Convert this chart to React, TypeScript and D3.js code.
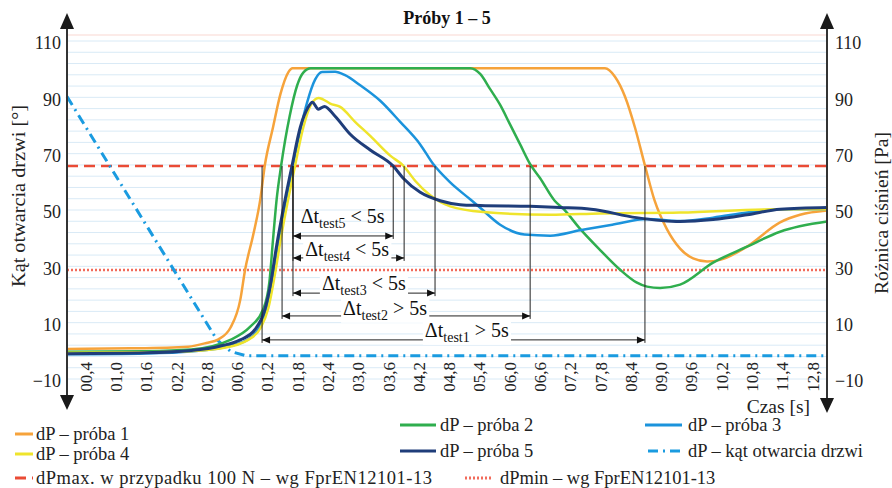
import * as d3 from 'd3';
import React, { useRef, useEffect } from 'react';

// x axis is the sample index of the tick labels (0..24)
const xLabels = ["00,4", "01,0", "01,6", "02,2", "02,8", "00,6", "01,2", "01,8", "02,4", "03,0", "03,6", "04,2", "04,8",
  "05,4", "06,0", "06,6", "07,2", "07,8", "08,4", "09,0", "09,6", "10,2", "10,8", "11,4", "12,8"];
const yTicks = [-10, 10, 30, 50, 70, 90, 110];

// [index, value]
const proba1: [number, number][] = [[-0.6, 1.4], [1.5, 1.6], [3.4, 2.2], [4.0, 3.5], [4.4, 4.8], [4.8, 9], [5.12, 18.8],
  [5.28, 29.5], [5.55, 42], [5.78, 54.4], [5.93, 66.5], [6.2, 80], [6.45, 92], [6.7, 99.5], [6.85, 101], [17.16, 101],
  [17.49, 98], [17.82, 91], [18.15, 80], [18.48, 66.5], [18.8, 54], [19.2, 44], [19.64, 37], [20.07, 33.5],
  [20.53, 32.4], [20.96, 33], [21.85, 37.7], [22.94, 46.3], [23.6, 49], [24.49, 50.5]];
const proba2: [number, number][] = [[-0.6, 0.4], [2, 0.6], [3.5, 1.2], [4.79, 4.6], [5.45, 9.3], [5.87, 15.3], [6.08, 25],
  [6.2, 40], [6.32, 54.4], [6.47, 66.5], [6.75, 84], [7.0, 95], [7.2, 99.5], [7.45, 101], [12.71, 101], [13.04, 99],
  [13.37, 93.6], [13.7, 88], [14.03, 81], [14.36, 74], [14.69, 67], [15.02, 62], [15.5, 54], [15.8, 51], [16.34, 44],
  [17.0, 36.5], [17.66, 29.5], [18.2, 25], [18.55, 23.5], [18.98, 23], [19.64, 24.2], [20.73, 32], [21.85, 37.7],
  [22.94, 43], [24.49, 46.6]];
const proba3: [number, number][] = [[-0.6, -0.5], [2, -0.2], [3.5, 0.5], [4.5, 1.8], [5.35, 4.6], [5.75, 9], [6.0, 16],
  [6.2, 27], [6.4, 40], [6.65, 55], [6.86, 66.5], [7.1, 79], [7.33, 89], [7.59, 97], [7.82, 99.7], [8.25, 99.8],
  [8.58, 98.6], [9.08, 95], [9.74, 89.5], [10.4, 82], [11.06, 74], [11.49, 67], [12.05, 60.5], [12.71, 54.5],
  [13.04, 51.5], [13.7, 45.5], [14.5, 42], [15.35, 41.6], [16.34, 43.5], [17.4, 45.5], [18.55, 47.5], [19.64, 46.8],
  [20.73, 48], [21.85, 49.8], [22.94, 51], [24.49, 51]];
const proba4: [number, number][] = [[-0.6, 0], [2, 0.2], [3.5, 0.6], [4.5, 1.6], [5.38, 4.6], [5.8, 9], [6.05, 16],
  [6.25, 27], [6.45, 40], [6.7, 54.4], [6.93, 66.5], [7.2, 80], [7.45, 88], [7.7, 90.5], [7.85, 90], [8.09, 88.5],
  [8.42, 87.3], [8.91, 82], [9.41, 77], [10.07, 70], [10.5, 66.5], [10.9, 61], [11.38, 56], [12.05, 52],
  [13.14, 50], [15.35, 49], [17.0, 49.5], [19.64, 49.8], [22.94, 51], [24.49, 51]];
const proba5: [number, number][] = [[-0.6, -0.3], [2, 0], [3.5, 0.8], [4.5, 2.5], [5.12, 4.6], [5.6, 8.2], [5.93, 15.3],
  [6.13, 25], [6.3, 36.7], [6.6, 54.4], [6.83, 66.5], [7.1, 80], [7.35, 87], [7.5, 89], [7.7, 86.5], [7.9, 87.5],
  [8.25, 84], [8.75, 77.6], [9.41, 72], [10.17, 66.3], [10.5, 62], [11.06, 57], [11.72, 54], [12.38, 52.6],
  [13.04, 52.3], [14.69, 52], [15.68, 51.6], [16.7, 51], [18.2, 48], [19.64, 46.6], [20.73, 47.3], [21.85, 49],
  [22.94, 51], [24.49, 51.6]];
const katDrzwi: [number, number][] = [[-0.6, 91], [4.35, 4.6], [4.8, 0.5], [5.3, -1], [24.49, -1]];

const dPmax = 66.3;
const dPmin = 29.4;

// time-difference annotations
const testNames = ["test1", "test2", "test3", "test4", "test5"];
const testSigns = [">", ">", "<", "<", "<"];
const testStart = [5.84, 6.5, 6.86, 6.86, 6.86];
const testEnd = [18.48, 14.69, 11.55, 10.53, 10.17];
const testLevel = [4.6, 13.1, 21.2, 33.7, 41.5];

const legendLabels = ["dP – próba 1", "dP – próba 2", "dP – próba 3", "dP – próba 4", "dP – próba 5",
  "dP – kąt otwarcia drzwi", "dPmax. w przypadku 100 N – wg FprEN12101-13", "dPmin – wg FprEN12101-13"];

const FONT = '"Liberation Serif", "DejaVu Serif", serif';
const colors = ["#f6a33b", "#2fae4e", "#1b93dc", "#efe42c", "#1f3d7a", "#1a9be0", "#ea4b35", "#f26b5b"];
const dashes = [null, null, null, null, null, "10 5 2 5", "11 6", "2 2"];
const widths = [2.5, 2.5, 2.5, 2.5, 3, 3, 2.5, 2.5];

// legend layout: sample x1, x2, sample y, text x, text baseline, text length
const legendPos = [
  [15, 33, 434, 36, 440, 0], [400, 436, 425, 440, 431, 0], [645, 682, 425, 688, 431, 0],
  [15, 33, 454, 36, 460, 0], [400, 436, 451, 440, 457, 0], [648, 682, 451, 688, 457, 0],
  [15, 33, 478, 36, 484, 396], [465, 493, 478, 500, 484, 0]];
// annotation label layout (index, baseline value)
const labelPos = [[12.6, 5.7], [9.9, 13.5], [9.2, 22.3], [8.65, 34.4], [8.5, 46.1]];

function Chart() {
  const ref = useRef<SVGSVGElement>(null);

  useEffect(() => {
    const svg = d3.select(ref.current);
    svg.selectAll("*").remove();

    const x = d3.scaleLinear().domain([-0.6, 24.49]).range([67, 827]);
    const y = d3.scaleLinear().domain([-10, 110]).range([381, 43]);

    // grid
    svg.append("line").attr("x1", 67).attr("x2", 827).attr("y1", 35).attr("y2", 35)
      .attr("stroke", "#fbe4e0").attr("stroke-width", 1.5);
    svg.append("g").selectAll("line").data(d3.range(-10, 111, 4)).join("line")
      .attr("x1", 67).attr("x2", 827)
      .attr("y1", d => y(d) - 2).attr("y2", d => y(d) - 2)
      .attr("stroke", "#d9eaf6").attr("stroke-width", 1);

    // threshold lines
    svg.append("line").attr("x1", 67).attr("x2", 827).attr("y1", y(dPmax)).attr("y2", y(dPmax))
      .attr("stroke", colors[6]).attr("stroke-width", widths[6]).attr("stroke-dasharray", dashes[6]);
    svg.append("line").attr("x1", 67).attr("x2", 827).attr("y1", y(dPmin)).attr("y2", y(dPmin))
      .attr("stroke", colors[7]).attr("stroke-width", widths[7]).attr("stroke-dasharray", dashes[7]);

    const lin = d3.line<[number, number]>().x(d => x(d[0])).y(d => y(d[1]));
    svg.append("path").attr("d", lin(katDrzwi)).attr("fill", "none")
      .attr("stroke", colors[5]).attr("stroke-width", widths[5]).attr("stroke-dasharray", dashes[5]);

    const smooth = d3.line<[number, number]>().x(d => x(d[0])).y(d => y(d[1])).curve(d3.curveMonotoneX);
    const series = [proba1, proba2, proba3, proba4, proba5];
    series.forEach((s, i) => {
      svg.append("path").attr("d", smooth(s)).attr("fill", "none")
        .attr("stroke", colors[i]).attr("stroke-width", widths[i]).attr("stroke-linejoin", "round");
    });

    // annotations
    const ann = svg.append("g");
    const arrow = (px: number, py: number, dir: number) =>
      ann.append("path").attr("d", `M${px},${py}L${px - dir * 8},${py - 3.5}L${px - dir * 8},${py + 3.5}Z`).attr("fill", "#111");
    testNames.forEach((n, i) => {
      const x1 = x(testStart[i]), x2 = x(testEnd[i]), yy = y(testLevel[i]);
      ann.append("line").attr("x1", x1).attr("x2", x1).attr("y1", y(dPmax)).attr("y2", yy + 3)
        .attr("stroke", "#222").attr("stroke-width", 1);
      ann.append("line").attr("x1", x2).attr("x2", x2).attr("y1", y(dPmax)).attr("y2", yy + 3)
        .attr("stroke", "#222").attr("stroke-width", 1);
      ann.append("line").attr("x1", x1).attr("x2", x2).attr("y1", yy).attr("y2", yy)
        .attr("stroke", "#222").attr("stroke-width", 1);
      arrow(x1, yy, -1);
      arrow(x2, yy, 1);
    });
    testNames.forEach((n, i) => {
      const g = ann.append("g");
      const t = g.append("text").attr("x", x(labelPos[i][0])).attr("y", y(labelPos[i][1]))
        .attr("text-anchor", "middle").style("font-family", FONT).attr("font-size", 20).attr("fill", "#111");
      t.append("tspan").text("Δt");
      t.append("tspan").attr("font-size", 14).attr("dy", 5).text(n);
      t.append("tspan").attr("dy", -5).text(` ${testSigns[i]} 5s`);
      const bb = (t.node() as SVGTextElement).getBBox();
      if (i < 4) {
        g.insert("rect", "text").attr("x", bb.x - 2).attr("y", bb.y + 2).attr("width", bb.width + 4).attr("height", bb.height - 2)
          .attr("fill", "white");
      }
    });

    // axes
    const axisCol = "#333";
    [67, 827].forEach((ax, k) => {
      svg.append("line").attr("x1", ax).attr("x2", ax).attr("y1", 26).attr("y2", 398)
        .attr("stroke", axisCol).attr("stroke-width", 2);
      svg.append("path").attr("d", `M${ax},13L${ax - 7},29L${ax + 7},29Z`).attr("fill", "#1a1a1a");
      const tip = k === 0 ? 410 : 413;
      svg.append("path").attr("d", `M${ax},${tip}L${ax - 7},${tip - 15}L${ax + 7},${tip - 15}Z`).attr("fill", "#1a1a1a");
    });

    const yl = svg.append("g").attr("transform", "translate(67,0)")
      .call(d3.axisLeft(y).tickValues(yTicks).tickSize(0).tickPadding(6));
    const yr = svg.append("g").attr("transform", "translate(827,0)")
      .call(d3.axisRight(y).tickValues(yTicks).tickSize(0).tickPadding(8));
    const xa = svg.append("g").attr("transform", "translate(6,362)")
      .call(d3.axisBottom(x).tickValues(d3.range(xLabels.length)).tickFormat(i => xLabels[i as number]).tickSize(0));
    [yl, yr, xa].forEach(a => {
      a.select(".domain").remove();
      a.attr("font-family", null).attr("font-size", null);
      a.selectAll("text").style("font-family", FONT).style("font-size", "18px").attr("fill", "#222");
    });
    xa.selectAll("text").style("font-size", "17px").attr("transform", "rotate(-90)").attr("text-anchor", "end")
      .attr("x", 0).attr("y", 0).attr("dy", 0);

    // titles
    svg.append("text").attr("x", 447).attr("y", 24).attr("text-anchor", "middle").style("font-family", FONT)
      .attr("font-weight", "bold").attr("font-size", 18).attr("fill", "#111").text("Próby 1 – 5");
    svg.append("text").attr("transform", "translate(25,196) rotate(-90)").attr("text-anchor", "middle")
      .style("font-family", FONT).attr("font-size", 19).attr("fill", "#222")
      .attr("textLength", 182).attr("lengthAdjust", "spacingAndGlyphs").text("Kąt otwarcia drzwi [°]");
    svg.append("text").attr("transform", "translate(888,213) rotate(-90)").attr("text-anchor", "middle")
      .style("font-family", FONT).attr("font-size", 19).attr("fill", "#222")
      .attr("textLength", 162).attr("lengthAdjust", "spacingAndGlyphs").text("Różnica ciśnień [Pa]");
    svg.append("text").attr("x", 810).attr("y", 413).attr("text-anchor", "end")
      .style("font-family", FONT).attr("font-size", 19.5).attr("fill", "#222").text("Czas [s]");

    // legend
    const lg = svg.append("g");
    legendLabels.forEach((lab, i) => {
      const p = legendPos[i];
      lg.append("line").attr("x1", p[0]).attr("x2", p[1]).attr("y1", p[2]).attr("y2", p[2])
        .attr("stroke", colors[i]).attr("stroke-width", 3).attr("stroke-dasharray", dashes[i]);
      const t = lg.append("text").attr("x", p[3]).attr("y", p[4]).style("font-family", FONT).attr("font-size", 18.5)
        .attr("fill", "#222").text(lab);
      if (p[5]) t.attr("textLength", p[5]).attr("lengthAdjust", "spacing");
    });
  }, []);

  return (
    <svg ref={ref} width={892} height={488}
      style={{ position: "absolute", left: 0, top: 0, background: "white", fontFamily: FONT }} />
  );
}

export default function App() {
  return <Chart />;
}
